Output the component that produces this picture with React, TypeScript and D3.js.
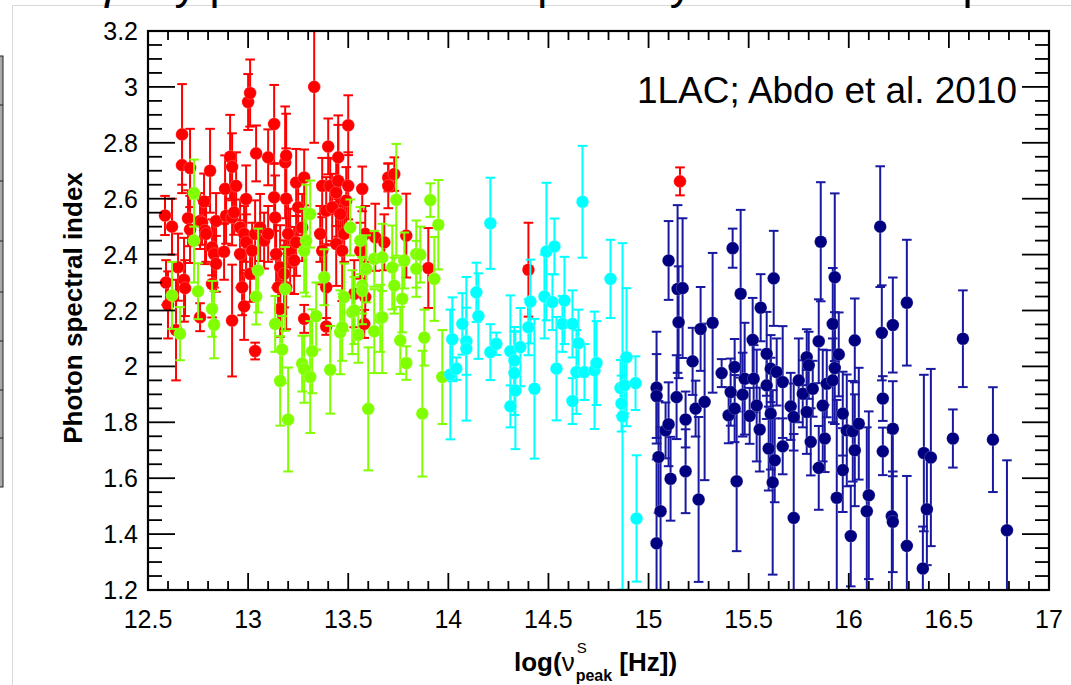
import React from 'react';
import * as d3 from 'd3';

type Pt = [number, number, number]; // [log nu_peak, photon index, error]

// LSP / FSRQ (red)
const redPoints: Pt[] = [
  [12.585, 2.54, 0.07], [12.62, 2.5, 0.1], [12.59, 2.3, 0.08], [12.6, 2.22, 0.12], [12.64, 2.13, 0.18],
  [12.67, 2.83, 0.18], [12.67, 2.72, 0.1], [12.71, 2.71, 0.14], [12.7, 2.53, 0.1], [12.65, 2.355, 0.12],
  [12.68, 2.31, 0.15], [12.685, 2.28, 0.1], [12.71, 2.49, 0.12], [12.76, 2.52, 0.1], [12.77, 2.515, 0.08],
  [12.78, 2.59, 0.1], [12.785, 2.486, 0.12], [12.79, 2.474, 0.1], [12.81, 2.7, 0.15], [12.82, 2.426, 0.1],
  [12.83, 2.402, 0.12], [12.84, 2.367, 0.1], [12.84, 2.52, 0.1], [12.76, 2.176, 0.05], [12.82, 2.295, 0.12],
  [12.88, 2.41, 0.1], [12.885, 2.635, 0.12], [12.89, 2.539, 0.1], [12.91, 2.75, 0.15], [12.92, 2.714, 0.12],
  [12.92, 2.533, 0.1], [12.93, 2.551, 0.08], [12.94, 2.646, 0.12], [12.92, 2.164, 0.2], [12.96, 2.497, 0.1],
  [12.98, 2.474, 0.1], [12.96, 2.402, 0.12], [12.99, 2.444, 0.1], [12.99, 2.599, 0.12], [12.97, 2.283, 0.1],
  [12.98, 2.215, 0.12], [13.0, 2.946, 0.1], [13.01, 2.978, 0.12], [13.01, 2.331, 0.1], [13.02, 2.414, 0.1],
  [13.035, 2.474, 0.12], [13.035, 2.055, 0.03], [13.04, 2.762, 0.1], [13.06, 2.497, 0.12], [13.08, 2.45, 0.1],
  [13.1, 2.474, 0.1], [13.1, 2.748, 0.1], [13.13, 2.867, 0.14], [13.13, 2.605, 0.12], [13.135, 2.533, 0.15],
  [13.14, 2.402, 0.12], [13.15, 2.283, 0.12], [13.16, 2.355, 0.15], [13.16, 2.206, 0.1], [13.18, 2.331, 0.12],
  [13.185, 2.73, 0.2], [13.19, 2.754, 0.15], [13.19, 2.6, 0.18], [13.19, 2.283, 0.15], [13.2, 2.474, 0.12],
  [13.21, 2.414, 0.15], [13.23, 2.379, 0.12], [13.24, 2.658, 0.12], [13.24, 2.444, 0.12], [13.25, 2.569, 0.1],
  [13.27, 2.497, 0.12], [13.28, 2.676, 0.1], [13.28, 2.17, 0.05], [13.33, 3.0, 0.2], [13.36, 2.474, 0.1],
  [13.37, 2.646, 0.1], [13.37, 2.414, 0.12], [13.39, 2.557, 0.12], [13.39, 2.283, 0.15], [13.39, 2.143, 0.03],
  [13.4, 2.787, 0.1], [13.41, 2.646, 0.1], [13.42, 2.569, 0.12], [13.44, 2.622, 0.12], [13.44, 2.438, 0.15],
  [13.45, 2.748, 0.15], [13.45, 2.664, 0.2], [13.46, 2.545, 0.12], [13.47, 2.414, 0.18], [13.48, 2.474, 0.1],
  [13.49, 2.593, 0.12], [13.5, 2.863, 0.107], [13.5, 2.646, 0.12], [13.53, 2.26, 0.12], [13.56, 2.414, 0.1],
  [13.57, 2.635, 0.08], [13.585, 2.474, 0.1], [13.58, 2.152, 0.05], [13.585, 2.248, 0.1], [13.635, 2.462, 0.12],
  [13.68, 2.444, 0.1], [13.7, 2.676, 0.05], [13.7, 2.646, 0.08], [13.73, 2.688, 0.06], [13.79, 2.468, 0.15],
  [13.9, 2.352, 0.143], [14.4, 2.346, 0.168], [15.157, 2.662, 0.05],
];

// LSP BL Lacs (green)
const greenPoints: Pt[] = [
  [12.62, 2.254, 0.12], [12.66, 2.117, 0.095], [12.73, 2.62, 0.12], [12.73, 2.45, 0.15], [12.75, 2.269, 0.1],
  [12.82, 2.206, 0.1], [12.83, 2.149, 0.12], [13.04, 2.25, 0.1], [13.05, 2.343, 0.15], [13.135, 2.152, 0.1],
  [13.17, 2.06, 0.12], [13.16, 1.948, 0.16], [13.185, 2.277, 0.15], [13.2, 1.81, 0.186], [13.27, 2.01, 0.1],
  [13.28, 1.99, 0.12], [13.28, 2.414, 0.15], [13.29, 2.45, 0.2], [13.31, 2.545, 0.12], [13.31, 1.962, 0.2],
  [13.32, 2.054, 0.15], [13.34, 2.18, 0.12], [13.38, 2.319, 0.1], [13.41, 1.988, 0.157], [13.46, 2.122, 0.15],
  [13.47, 2.14, 0.12], [13.48, 2.248, 0.12], [13.51, 2.497, 0.1], [13.52, 2.194, 0.15], [13.53, 2.2, 0.12],
  [13.55, 2.113, 0.1], [13.56, 2.45, 0.12], [13.57, 2.289, 0.1], [13.57, 2.271, 0.12], [13.59, 2.349, 0.12],
  [13.6, 1.848, 0.22], [13.63, 2.385, 0.1], [13.63, 2.126, 0.15], [13.66, 2.172, 0.12], [13.67, 2.39, 0.12],
  [13.67, 2.176, 0.2], [13.72, 2.354, 0.15], [13.73, 2.289, 0.1], [13.74, 2.596, 0.2], [13.76, 2.093, 0.12],
  [13.77, 2.242, 0.12], [13.78, 2.379, 0.1], [13.79, 2.012, 0.06], [13.84, 2.402, 0.12], [13.84, 2.349, 0.1],
  [13.86, 2.4, 0.1], [13.87, 1.831, 0.225], [13.88, 2.103, 0.1], [13.91, 2.595, 0.06], [13.93, 2.313, 0.15],
  [13.95, 2.507, 0.16], [13.97, 1.962, 0.168],
];

// ISP (cyan)
const cyanPoints: Pt[] = [
  [14.01, 1.971, 0.232], [14.02, 2.097, 0.15], [14.04, 1.992, 0.04], [14.07, 2.152, 0.11], [14.09, 2.09, 0.12],
  [14.09, 2.063, 0.257], [14.14, 2.265, 0.106], [14.15, 2.18, 0.153], [14.21, 2.512, 0.163], [14.21, 2.051, 0.1],
  [14.24, 2.081, 0.04], [14.31, 1.857, 0.075], [14.31, 2.054, 0.2], [14.33, 2.021, 0.12], [14.33, 1.976, 0.15],
  [14.335, 1.914, 0.21], [14.36, 2.069, 0.14], [14.4, 2.14, 0.1], [14.41, 2.232, 0.15], [14.43, 1.92, 0.25],
  [14.49, 2.411, 0.246], [14.53, 2.429, 0.1], [14.48, 2.25, 0.15], [14.52, 2.23, 0.1], [14.54, 1.992, 0.185],
  [14.58, 2.236, 0.156], [14.57, 2.152, 0.1], [14.62, 2.152, 0.12], [14.65, 2.083, 0.12], [14.62, 1.876, 0.082],
  [14.64, 1.98, 0.15], [14.68, 1.98, 0.1], [14.67, 2.589, 0.2], [14.73, 1.986, 0.21], [14.74, 2.012, 0.15],
  [14.81, 2.313, 0.14], [14.86, 1.923, 0.1], [14.865, 1.867, 0.1], [14.87, 1.821, 0.62], [14.89, 2.033, 0.247],
  [14.88, 1.932, 0.1], [14.935, 1.94, 0.096], [14.94, 1.456, 0.226],
];

// HSP (navy)
const navyPoints: Pt[] = [
  [15.04, 1.924, 0.2], [15.04, 1.894, 0.15], [15.05, 1.676, 0.2], [15.06, 1.482, 0.3], [15.04, 1.367, 0.3],
  [15.085, 1.771, 0.1], [15.1, 1.793, 0.15], [15.11, 1.598, 0.15], [15.1, 2.379, 0.141], [15.145, 2.277, 0.3],
  [15.17, 2.28, 0.25], [15.15, 2.158, 0.2], [15.14, 1.89, 0.15], [15.185, 1.81, 0.1], [15.185, 1.625, 0.15],
  [15.22, 2.018, 0.12], [15.235, 1.849, 0.1], [15.25, 1.524, 0.295], [15.26, 2.134, 0.15], [15.28, 1.873, 0.28],
  [15.32, 2.156, 0.25], [15.365, 1.976, 0.05], [15.42, 2.423, 0.07], [15.4, 1.825, 0.1], [15.41, 1.908, 0.12],
  [15.43, 1.998, 0.1], [15.43, 1.849, 0.12], [15.44, 1.589, 0.25], [15.46, 2.26, 0.3], [15.47, 1.899, 0.15],
  [15.48, 1.956, 0.2], [15.505, 1.823, 0.1], [15.52, 2.095, 0.15], [15.525, 1.956, 0.12], [15.54, 1.86, 0.2],
  [15.555, 1.774, 0.15], [15.56, 2.21, 0.12], [15.59, 2.045, 0.15], [15.59, 1.932, 0.12], [15.6, 1.706, 0.15],
  [15.61, 1.831, 0.2], [15.61, 1.992, 0.12], [15.62, 1.585, 0.33], [15.625, 2.315, 0.17], [15.63, 1.664, 0.15],
  [15.64, 1.98, 0.12], [15.67, 1.714, 0.1], [15.67, 1.944, 0.2], [15.71, 1.857, 0.12], [15.725, 1.458, 0.3],
  [15.725, 1.819, 0.12], [15.75, 1.95, 0.15], [15.77, 1.902, 0.12], [15.79, 2.033, 0.1], [15.8, 2.004, 0.12],
  [15.79, 1.837, 0.15], [15.81, 1.73, 0.12], [15.82, 1.92, 0.1], [15.85, 1.637, 0.15], [15.85, 2.09, 0.15],
  [15.86, 2.446, 0.213], [15.87, 1.86, 0.2], [15.88, 1.742, 0.12], [15.89, 1.938, 0.12], [15.92, 1.95, 0.15],
  [15.92, 2.152, 0.2], [15.93, 2.319, 0.3], [15.93, 1.994, 0.2], [15.95, 2.043, 0.15], [15.94, 1.53, 0.35],
  [15.97, 1.831, 0.15], [15.97, 1.629, 0.15], [15.99, 1.771, 0.2], [16.02, 1.768, 0.18], [16.03, 2.093, 0.15],
  [16.03, 1.7, 0.2], [16.01, 1.393, 0.18], [16.05, 1.795, 0.2], [16.1, 1.539, 0.3], [16.09, 1.482, 0.3],
  [16.157, 2.5, 0.216], [16.165, 2.12, 0.17], [16.17, 1.885, 0.08], [16.17, 1.696, 0.085], [16.22, 2.148, 0.17],
  [16.22, 1.777, 0.17], [16.215, 1.464, 0.3], [16.22, 1.444, 0.18], [16.29, 2.228, 0.225], [16.29, 1.358, 0.25],
  [16.375, 1.69, 0.28], [16.41, 1.674, 0.317], [16.39, 1.489, 0.2], [16.37, 1.277, 0.15], [16.52, 1.742, 0.104],
  [16.57, 2.099, 0.173], [16.72, 1.738, 0.1875], [16.79, 1.414, 0.25],
];

const xTickValues = [12.5, 13, 13.5, 14, 14.5, 15, 15.5, 16, 16.5, 17];
const xTickLabels = ['12.5', '13', '13.5', '14', '14.5', '15', '15.5', '16', '16.5', '17'];
const yTickValues = [1.2, 1.4, 1.6, 1.8, 2.0, 2.2, 2.4, 2.6, 2.8, 3.0, 3.2];
const yTickLabels = ['1.2', '1.4', '1.6', '1.8', '2', '2.2', '2.4', '2.6', '2.8', '3', '3.2'];

const annotation = '1LAC; Abdo et al. 2010';
const yTitle = 'Photon spectral index';
const slideTitle = 'γ-ray photon index vs peak synchrotron frequency';

const W = 1071;
const H = 685;
const L = 148, R = 1049, T = 31, B = 590;
const FONT = '"Liberation Sans", Arial, Helvetica, sans-serif';

export default function App() {
  const x = d3.scaleLinear().domain([12.5, 17]).range([L, R]);
  const y = d3.scaleLinear().domain([1.2, 3.2]).range([B, T]);
  const minorX = d3.range(125, 171).map((v) => v / 10).filter((v) => Math.abs(v * 2 - Math.round(v * 2)) > 1e-6);
  const minorY = d3.range(24, 65).map((v) => v / 20).filter((v) => Math.abs(v * 5 - Math.round(v * 5)) > 1e-6);

  const series = [
    { key: 'navy', data: navyPoints, dot: '#000080', bar: '#1818a0' },
    { key: 'red', data: redPoints, dot: '#ff0000', bar: '#ff0000' },
    { key: 'green', data: greenPoints, dot: '#80ff00', bar: '#80ff00' },
    { key: 'cyan', data: cyanPoints, dot: '#00ffff', bar: '#00ffff' },
  ];

  const cap = 4.8;
  const leftBoxLines = [105, 181, 241, 292, 341, 390, 438];

  return (
    <svg width={W} height={H} style={{ position: 'absolute', left: 0, top: 0, background: '#fff' }} fontFamily={FONT}>
      <rect x={0} y={0} width={W} height={H} fill="#fff" />
      {/* slide fragments */}
      <line x1={12.5} y1={5.5} x2={W} y2={5.5} stroke="#d8d8d8" strokeWidth={1} />
      <line x1={12.5} y1={5.5} x2={12.5} y2={H} stroke="#d8d8d8" strokeWidth={1} />
      <text x={97} y={-1.5} fontSize={45} fill="#000" fontFamily={FONT}>{slideTitle}</text>
      <rect x={-2} y={56} width={5} height={431} fill="#aaa" stroke="#222" strokeWidth={1} />
      {leftBoxLines.map((v) => (
        <line key={v} x1={0} x2={3} y1={v} y2={v} stroke="#222" strokeWidth={1} />
      ))}

      <defs>
        <clipPath id="plotClip">
          <rect x={L} y={T} width={R - L} height={B - T} />
        </clipPath>
      </defs>

      <g clipPath="url(#plotClip)">
        {series.map((s) => (
          <g key={s.key}>
            {s.data.map((d, i) => {
              const cx = x(d[0]);
              const y1 = y(d[1] + d[2]);
              const y2 = y(d[1] - d[2]);
              return (
                <g key={i}>
                  <line x1={cx} x2={cx} y1={y1} y2={y2} stroke={s.bar} strokeWidth={2} />
                  <line x1={cx - cap} x2={cx + cap} y1={y1} y2={y1} stroke={s.bar} strokeWidth={2} />
                  <line x1={cx - cap} x2={cx + cap} y1={y2} y2={y2} stroke={s.bar} strokeWidth={2} />
                </g>
              );
            })}
            {s.data.map((d, i) => (
              <circle key={'c' + i} cx={x(d[0])} cy={y(d[1])} r={6.3} fill={s.dot} stroke="#fff" strokeOpacity={0.35} strokeWidth={0.6} />
            ))}
          </g>
        ))}
      </g>

      {/* ticks */}
      <g stroke="#000" strokeWidth={1.8}>
        {xTickValues.map((v) => (
          <g key={'xm' + v}>
            <line x1={x(v)} x2={x(v)} y1={B} y2={B - 17} />
            <line x1={x(v)} x2={x(v)} y1={T} y2={T + 17} />
          </g>
        ))}
        {minorX.map((v) => (
          <g key={'xn' + v}>
            <line x1={x(v)} x2={x(v)} y1={B} y2={B - 9} />
            <line x1={x(v)} x2={x(v)} y1={T} y2={T + 9} />
          </g>
        ))}
        {yTickValues.map((v) => (
          <g key={'ym' + v}>
            <line x1={L} x2={L + 27} y1={y(v)} y2={y(v)} />
            <line x1={R} x2={R - 27} y1={y(v)} y2={y(v)} />
          </g>
        ))}
        {minorY.map((v) => (
          <g key={'yn' + v}>
            <line x1={L} x2={L + 14} y1={y(v)} y2={y(v)} />
            <line x1={R} x2={R - 14} y1={y(v)} y2={y(v)} />
          </g>
        ))}
      </g>
      <rect x={L} y={T} width={R - L} height={B - T} fill="none" stroke="#000" strokeWidth={2.2} />

      {/* tick labels */}
      {xTickValues.map((v, i) => (
        <text key={'xl' + v} x={x(v)} y={628} textAnchor="middle" fontSize={25} fill="#000">{xTickLabels[i]}</text>
      ))}
      {yTickValues.map((v, i) => (
        <text key={'yl' + v} x={138} y={y(v) + 9} textAnchor="end" fontSize={25} fill="#000">{yTickLabels[i]}</text>
      ))}

      {/* axis titles */}
      <text x={514} y={671} fontSize={26} fontWeight="bold" fill="#000">
        log(
        <tspan fontWeight="normal">ν</tspan>
        <tspan fontSize={15} fontWeight="normal" dx={2} dy={-18}>S</tspan>
        <tspan fontSize={16} dx={-11} dy={28}>peak</tspan>
        <tspan fontSize={26} dy={-10}> [Hz])</tspan>
      </text>
      <text transform="translate(82,308) rotate(-90)" textAnchor="middle" fontSize={26} fontWeight="bold" fill="#000">
        {yTitle}
      </text>

      {/* annotation */}
      <text x={637} y={103} fontSize={36} fill="#000" textLength={380} lengthAdjust="spacingAndGlyphs">{annotation}</text>
    </svg>
  );
}
